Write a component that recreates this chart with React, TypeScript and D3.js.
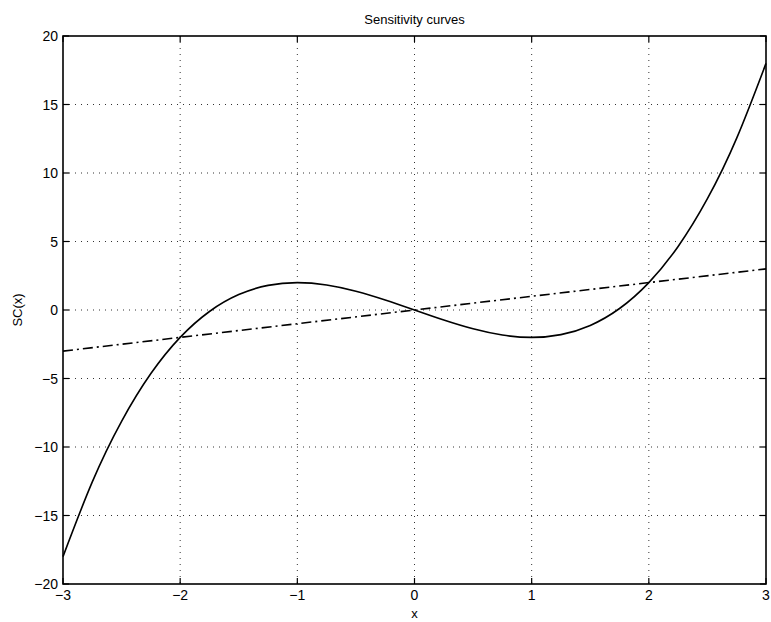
import React from "react";
import * as d3 from "d3";

// Sensitivity curve samples SC(x)
const curveX = [-3, -2.75, -2.5, -2.25, -2, -1.75, -1.5, -1.25, -1, -0.75, -0.5, -0.25, 0, 0.25, 0.5, 0.75, 1, 1.25, 1.5, 1.75, 2, 2.25, 2.5, 2.75, 3];
const curveY = [-18, -12.547, -8.125, -4.641, -2, -0.109, 1.125, 1.797, 2, 1.828, 1.375, 0.734, 0, -0.734, -1.375, -1.828, -2, -1.797, -1.125, 0.109, 2, 4.641, 8.125, 12.547, 18];

// Reference line (dash-dot)
const lineX = [-3, 3];
const lineY = [-3, 3];

const xTicks = [-3, -2, -1, 0, 1, 2, 3];
const yTicks = [-20, -15, -10, -5, 0, 5, 10, 15, 20];

const W = 771;
const H = 622;
const M = { left: 63, right: 5, top: 36, bottom: 38 };

export default function App() {
  const x = d3.scaleLinear().domain([-3, 3]).range([M.left, W - M.right]);
  const y = d3.scaleLinear().domain([-20, 20]).range([H - M.bottom, M.top]);
  const [x0, x1] = x.range();
  const [y0, y1] = y.range();

  const line = d3
    .line<[number, number]>()
    .x((d) => x(d[0]))
    .y((d) => y(d[1]))
    .curve(d3.curveNatural);
  const straight = d3
    .line<[number, number]>()
    .x((d) => x(d[0]))
    .y((d) => y(d[1]));

  const curvePts = curveX.map((v, i) => [v, curveY[i]] as [number, number]);
  const linePts = lineX.map((v, i) => [v, lineY[i]] as [number, number]);

  const font = "'Liberation Sans', Arial, Helvetica, sans-serif";
  const tickLen = 6;

  return (
    <svg
      width={W}
      height={H}
      style={{ position: "absolute", left: 0, top: 0, background: "#fff" }}
      fontFamily={font}
    >
      <rect x={0} y={0} width={W} height={H} fill="#fff" />
      {/* grid */}
      <g stroke="#333" strokeWidth={1} strokeDasharray="1,5">
        {xTicks.slice(1, -1).map((t) => (
          <line key={"gx" + t} x1={x(t)} x2={x(t)} y1={y1} y2={y0} />
        ))}
        {yTicks.slice(1, -1).map((t) => (
          <line key={"gy" + t} x1={x0} x2={x1} y1={y(t)} y2={y(t)} />
        ))}
      </g>
      {/* ticks */}
      <g stroke="#000" strokeWidth={1.2}>
        {xTicks.map((t) => (
          <g key={"tx" + t}>
            <line x1={x(t)} x2={x(t)} y1={y0} y2={y0 - tickLen} />
            <line x1={x(t)} x2={x(t)} y1={y1} y2={y1 + tickLen} />
          </g>
        ))}
        {yTicks.map((t) => (
          <g key={"ty" + t}>
            <line x1={x0} x2={x0 + tickLen} y1={y(t)} y2={y(t)} />
            <line x1={x1} x2={x1 - tickLen} y1={y(t)} y2={y(t)} />
          </g>
        ))}
      </g>
      {/* series */}
      <path d={straight(linePts) || ""} fill="none" stroke="#000" strokeWidth={1.6} strokeDasharray="10,4,2,4" />
      <path d={line(curvePts) || ""} fill="none" stroke="#000" strokeWidth={1.6} />
      {/* frame */}
      <rect x={x0} y={y1} width={x1 - x0} height={y0 - y1} fill="none" stroke="#000" strokeWidth={1.6} />
      {/* labels */}
      <g fontSize={14} fill="#000">
        {xTicks.map((t) => (
          <text key={"lx" + t} x={x(t)} y={y0 + 16} textAnchor="middle">
            {t < 0 ? "\u2212" + Math.abs(t) : t}
          </text>
        ))}
        {yTicks.map((t) => (
          <text key={"ly" + t} x={x0 - 5} y={y(t) + 5} textAnchor="end">
            {t < 0 ? "\u2212" + Math.abs(t) : t}
          </text>
        ))}
      </g>
      <text x={(x0 + x1) / 2} y={24} textAnchor="middle" fontSize={13}>
        Sensitivity curves
      </text>
      <text x={(x0 + x1) / 2} y={618} textAnchor="middle" fontSize={13}>
        x
      </text>
      <text
        transform={`translate(22, ${(y0 + y1) / 2}) rotate(-90)`}
        textAnchor="middle"
        fontSize={13}
      >
        SC(x)
      </text>
    </svg>
  );
}
